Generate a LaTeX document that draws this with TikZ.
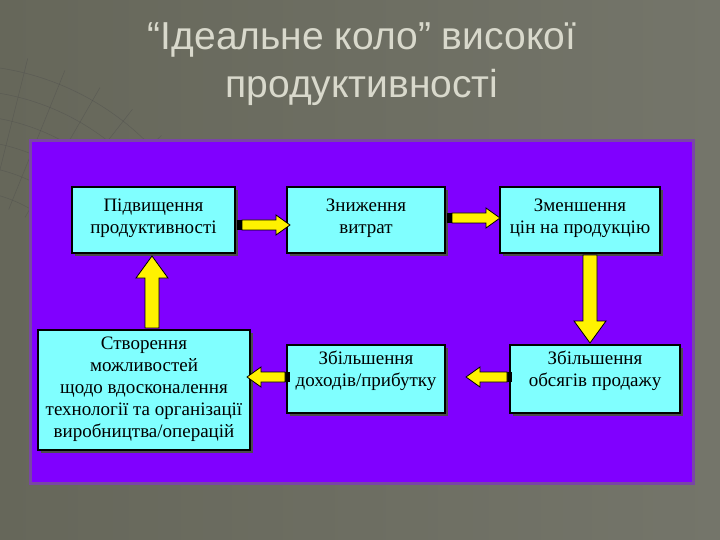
\documentclass[tikz,border=0pt]{standalone}
\usepackage{fontspec}
\setmainfont{Liberation Serif}
\newfontfamily\titlefont{Liberation Sans}
\definecolor{bg}{HTML}{66675A}
\definecolor{bgl}{HTML}{74756A}
\definecolor{purp}{HTML}{8000FF}
\definecolor{cyanb}{HTML}{80FFFF}
\definecolor{ttl}{HTML}{D9D9CC}
\tikzset{
  box/.style={draw=black, line width=1.2pt, fill=cyanb, inner sep=0pt},
  txt/.style={align=center, inner sep=0pt, font=\fontsize{19}{22}\selectfont},
  blkarrow/.style={draw=black, fill=yellow, line width=0.8pt},
}
\newcommand{\harrow}[3]{% x1 x2 y
  \pgfmathsetmacro{\d}{(#2>#1)?1:-1}
  \fill[black] (#1,#3-5) rectangle ({#1+\d*5},#3+5);
  \path[blkarrow] ({#1+\d*5},#3-5) -- ({#2-\d*14},#3-5) -- ({#2-\d*14},#3-10) -- (#2,#3) -- ({#2-\d*14},#3+10) -- ({#2-\d*14},#3+5) -- ({#1+\d*5},#3+5) -- cycle;
}
\newcommand{\varrow}[3]{% y1 y2 x
  \pgfmathsetmacro{\d}{(#2>#1)?1:-1}
  \path[blkarrow] (#3-7,#1) -- (#3-7,{#2-\d*22}) -- (#3-16,{#2-\d*22}) -- (#3,#2) -- (#3+16,{#2-\d*22}) -- (#3+7,{#2-\d*22}) -- (#3+7,#1) -- cycle;
}
\begin{document}
\begin{tikzpicture}[x=1pt,y=-1pt]
\useasboundingbox (0,0) rectangle (720,540);
\shade[left color=bg, right color=bgl] (0,0) rectangle (720,540);
\begin{scope}[draw=black!70, line width=0.5pt, opacity=0.45]
\foreach \r in {140,165,190,215,240,265}
  \draw (-40,330) ++(-85:\r) arc (-85:-15:\r);
\foreach \a in {-84,-76,...,-20}
  \draw (-40,330) ++(\a:130) -- ++(\a:150);
\end{scope}
\node[font=\titlefont\fontsize{39}{48}\selectfont, text=ttl, align=center] (title) at (362,64) {“Ідеальне коло” високої\\продуктивності};
\fill[bgl!60!purp] (29,139) rectangle (695,485);
\fill[purp] (32,142) rectangle (692,482);
\foreach \a/\b/\c/\e in {72/187/235/253, 287/187/445/253, 500/187/660/253, 38/330/250/450, 287/345/445/413, 510/345/680/413}
  \fill[black!70] (\a+3,\b+3) rectangle (\c+3,\e+3);
\node[box, minimum width=163pt, minimum height=66pt] (b1) at (153.5,220) {};
\node[box, minimum width=158pt, minimum height=66pt] (b2) at (366,220) {};
\node[box, minimum width=160pt, minimum height=66pt] (b3) at (580,220) {};
\node[box, minimum width=212pt, minimum height=120pt] (b4) at (144,390) {};
\node[box, minimum width=158pt, minimum height=68pt] (b5) at (366,379) {};
\node[box, minimum width=170pt, minimum height=68pt] (b6) at (595,379) {};
\node[txt] (t1) at (153.5,218) {Підвищення\\продуктивності};
\node[txt] (t2) at (366,218) {Зниження\\витрат};
\node[txt] (t3) at (580,218) {Зменшення\\цін на продукцію};
\node[txt] (t4) at (144,389) {Створення\\можливостей\\щодо вдосконалення\\технології та організації\\виробництва/операцій};
\node[txt] (t5) at (366,371) {Збільшення\\доходів/прибутку};
\node[txt] (t6) at (595,371) {Збільшення\\обсягів продажу};
\harrow{237}{290}{225}
\harrow{447}{500}{218}
\varrow{255}{343}{590}
\harrow{512}{466}{377}
\harrow{290}{247}{377}
\varrow{328}{256}{152}
\end{tikzpicture}
\end{document}
